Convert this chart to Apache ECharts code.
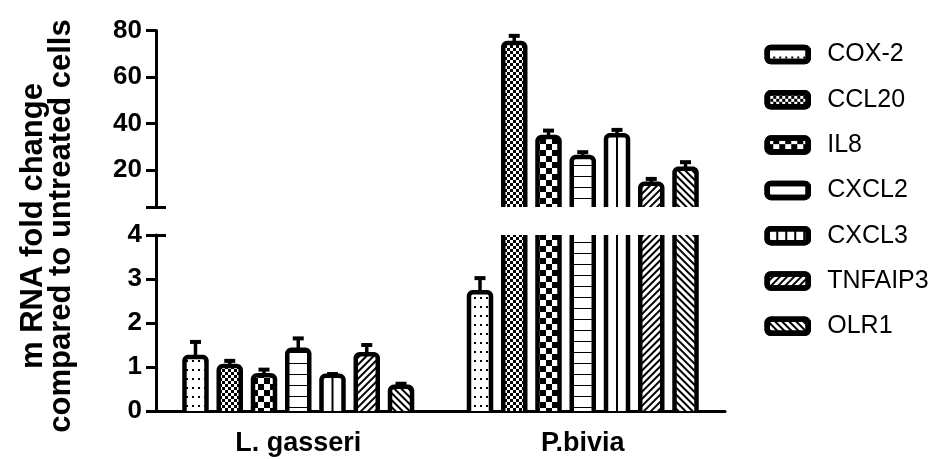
<!DOCTYPE html>
<html><head><meta charset="utf-8">
<script src="https://cdn.jsdelivr.net/npm/echarts@6/dist/echarts.min.js"></script>
<style>html,body{margin:0;padding:0;background:#fff}#c{width:945px;height:459px}</style>
</head><body><div id="c"></div>
<script>
// ---- data ----
const categories = ['L. gasseri', 'P.bivia'];
const genes = ['COX-2', 'CCL20', 'IL8', 'CXCL2', 'CXCL3', 'TNFAIP3', 'OLR1'];
const lGasseriMean = [1.23, 1.02, 0.81, 1.39, 0.80, 1.29, 0.55];
const lGasseriErr  = [0.34, 0.12, 0.13, 0.26, 0.04, 0.21, 0.07];
const pBiviaMean   = [2.70, 74.6, 34.1, 25.5, 34.9, 14.0, 20.5];
const pBiviaErr    = [0.32, 3.1, 2.8, 2.1, 2.3, 2.1, 2.8];
const upperTickLabels = [20, 40, 60, 80];
const lowerTickLabels = [0, 1, 2, 3, 4];
const axisBreak = 4;
const upperMax = 80;
const yTitle = 'm RNA fold change\ncompared to untreated cells';

// ---- style / layout ----
const FONT = '"Liberation Sans", Arial, Helvetica, sans-serif';
const BAR_W = 22, BAR_GAP = 0.557, OUTLINE = 4.5, CORNER = 4;
const G_UP = {left: 156, top: 30.5, width: 569, height: 176.5};
const G_LO = {left: 156, top: 235, width: 569, height: 176};
const BLACK = '#000';
const decals = [
  {symbol: 'rect', color: BLACK, dashArrayX: [2, 4], dashArrayY: [2, 7]},
  {symbol: 'rect', color: BLACK, dashArrayX: [[3, 3], [0, 3, 3, 0]], dashArrayY: [3, 0]},
  {symbol: 'rect', color: BLACK, dashArrayX: [[6, 6], [0, 6, 6, 0]], dashArrayY: [6, 0]},
  {symbol: 'rect', color: BLACK, dashArrayX: [10, 0], dashArrayY: [1, 10]},
  null,
  {symbol: 'rect', color: BLACK, dashArrayX: [10, 0], dashArrayY: [2, 3], rotation: -Math.PI / 4},
  {symbol: 'rect', color: BLACK, dashArrayX: [10, 0], dashArrayY: [2, 3], rotation: Math.PI / 4}
];
const CENTER_LINE_GENE = 4;

function barOffset(i) {
  const n = genes.length;
  const step = BAR_W * (1 + BAR_GAP);
  const sum = n * step - BAR_W * BAR_GAP;
  return -sum / 2 + i * step + BAR_W / 2;
}

function outlineRenderer(i, lo, hi) {
  return function (params, api) {
    const cat = api.value(0), v = api.value(1), e = api.value(2);
    if (!(v > lo)) return null;
    const base = api.coord([cat, lo]);
    const cx = base[0] + barOffset(i);
    const yb = base[1];
    const x0 = cx - BAR_W / 2, x1 = cx + BAR_W / 2;
    const st = {stroke: BLACK, lineWidth: OUTLINE, fill: null, lineJoin: 'round'};
    const children = [];
    if (v > hi) {
      const yt = api.coord([cat, hi])[1];
      children.push({type: 'line', shape: {x1: x0, y1: yb, x2: x0, y2: yt}, style: st});
      children.push({type: 'line', shape: {x1: x1, y1: yb, x2: x1, y2: yt}, style: st});
      if (i === CENTER_LINE_GENE) {
        children.push({type: 'line', shape: {x1: cx, y1: yb, x2: cx, y2: yt}, style: {stroke: BLACK, lineWidth: 2}});
      }
    } else {
      const yt = api.coord([cat, v])[1];
      const r = CORNER;
      const pts = [[x0, yb]];
      for (let k = 0; k <= 6; k++) {
        const a = Math.PI + k * Math.PI / 12;
        pts.push([x0 + r + r * Math.cos(a), yt + r + r * Math.sin(a)]);
      }
      for (let k = 0; k <= 6; k++) {
        const a = 1.5 * Math.PI + k * Math.PI / 12;
        pts.push([x1 - r + r * Math.cos(a), yt + r + r * Math.sin(a)]);
      }
      pts.push([x1, yb]);
      if (i === CENTER_LINE_GENE) {
        children.push({type: 'line', shape: {x1: cx, y1: yb, x2: cx, y2: yt}, style: {stroke: BLACK, lineWidth: 2}});
      }
      children.push({type: 'polyline', shape: {points: pts}, style: st});
      const ye = api.coord([cat, v + e])[1];
      children.push({type: 'line', shape: {x1: cx, y1: yt, x2: cx, y2: ye}, style: {stroke: BLACK, lineWidth: 3.5}});
      children.push({type: 'line', shape: {x1: cx - 5.5, y1: ye, x2: cx + 5.5, y2: ye}, style: {stroke: BLACK, lineWidth: 4}});
    }
    return {type: 'group', children: children};
  };
}

const series = [];
genes.forEach(function (g, i) {
  const vals = [lGasseriMean[i], pBiviaMean[i]];
  const errs = [lGasseriErr[i], pBiviaErr[i]];
  const itemStyle = {color: '#fff'};
  if (decals[i]) itemStyle.decal = decals[i];
  [0, 1].forEach(function (gi) {
    series.push({
      name: g, type: 'bar', xAxisIndex: gi, yAxisIndex: gi,
      data: vals, barWidth: BAR_W, barGap: (BAR_GAP * 100) + '%',
      itemStyle: itemStyle, silent: true, z: 2, clip: true
    });
  });
  const cdata = vals.map(function (v, k) { return [k, v, errs[k]]; });
  series.push({
    type: 'custom', xAxisIndex: 0, yAxisIndex: 0, data: cdata, silent: true, z: 3,
    renderItem: outlineRenderer(i, axisBreak, upperMax)
  });
  series.push({
    type: 'custom', xAxisIndex: 1, yAxisIndex: 1, data: cdata, silent: true, z: 3,
    renderItem: outlineRenderer(i, 0, axisBreak)
  });
});

const axisLineStyle = {color: BLACK, width: 3};
const tickLabel = {color: BLACK, fontSize: 26, fontWeight: 'bold', fontFamily: FONT, margin: 14};

const legendData = genes.map(function (g, i) {
  if (i === 3) return {name: g, itemStyle: {decal: {symbol: 'rect', color: 'rgba(0,0,0,0)', dashArrayX: [10, 0], dashArrayY: [1, 10]}}};
  if (i === 4) return {name: g, itemStyle: {decal: {symbol: 'rect', color: BLACK, dashArrayX: [2, 7], dashArrayY: [10, 0]}}};
  return {name: g};
});

const option = {
  backgroundColor: '#fff',
  animation: false,
  grid: [G_UP, G_LO, G_UP, G_LO],
  xAxis: [
    {type: 'category', data: categories, gridIndex: 0, show: false},
    {type: 'category', data: categories, gridIndex: 1,
      axisLine: {lineStyle: axisLineStyle}, axisTick: {show: false},
      axisLabel: {color: BLACK, fontSize: 27, fontWeight: 'bold', fontFamily: FONT, margin: 19}},
    {type: 'category', data: categories, gridIndex: 2, show: false},
    {type: 'category', data: categories, gridIndex: 3, show: false}
  ],
  yAxis: [
    {type: 'value', gridIndex: 0, min: axisBreak, max: upperMax,
      axisLine: {show: true, lineStyle: axisLineStyle},
      axisTick: {show: true, length: 10, lineStyle: axisLineStyle, customValues: [axisBreak].concat(upperTickLabels)},
      axisLabel: Object.assign({customValues: upperTickLabels}, tickLabel),
      splitLine: {show: false}},
    {type: 'value', gridIndex: 1, min: 0, max: axisBreak, interval: 1,
      axisLine: {show: true, lineStyle: axisLineStyle},
      axisTick: {show: true, length: 10, lineStyle: axisLineStyle, customValues: lowerTickLabels},
      axisLabel: Object.assign({customValues: lowerTickLabels}, tickLabel),
      splitLine: {show: false}},
    {type: 'value', gridIndex: 2, min: axisBreak, max: upperMax,
      axisLine: {show: false},
      axisTick: {show: true, inside: true, length: 10, lineStyle: axisLineStyle, customValues: [axisBreak]},
      axisLabel: {show: false}, splitLine: {show: false}},
    {type: 'value', gridIndex: 3, min: 0, max: axisBreak,
      axisLine: {show: false},
      axisTick: {show: true, inside: true, length: 10, lineStyle: axisLineStyle, customValues: [axisBreak]},
      axisLabel: {show: false}, splitLine: {show: false}}
  ],
  legend: {
    orient: 'vertical', left: 764.5, top: 42, padding: 0,
    itemWidth: 41, itemHeight: 14, itemGap: 20.3,
    icon: 'roundRect', selectedMode: false,
    itemStyle: {color: '#fff', borderColor: BLACK, borderWidth: 5.5},
    textStyle: {color: BLACK, fontSize: 25, fontFamily: FONT, lineHeight: 24, padding: [0, 0, 0, 14]},
    data: legendData
  },
  graphic: [{
    type: 'text', x: 47, y: 226, rotation: Math.PI / 2, silent: true,
    style: {text: yTitle, fill: BLACK, fontSize: 31, fontWeight: 'bold', fontFamily: FONT,
      lineHeight: 28, align: 'center', verticalAlign: 'middle'}
  }],
  series: series
};

const chart = echarts.init(document.getElementById('c'), null, {renderer: 'canvas'});
chart.setOption(option);
</script>
</body></html>
